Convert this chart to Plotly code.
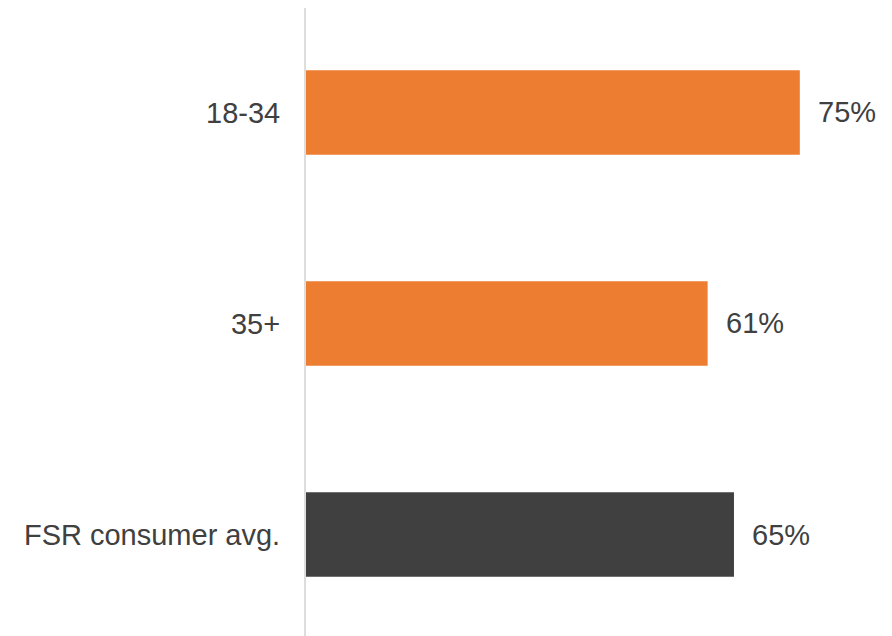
import plotly.graph_objects as go

categories = ["18-34", "35+", "FSR consumer avg."]
values = [75, 61, 65]
labels = ["75%", "61%", "65%"]
colors = ["#ED7D31", "#ED7D31", "#404040"]

FONT = "Arial, Liberation Sans, sans-serif"

fig = go.Figure()
fig.add_trace(go.Bar(
    x=values, y=categories, orientation="h",
    marker=dict(color=colors, line=dict(width=0)),
    width=0.4, hoverinfo="skip",
))
for c, v, t in zip(categories, values, labels):
    fig.add_annotation(x=v, y=c, text=t, showarrow=False, xanchor="left",
                       yanchor="middle", xshift=16,
                       font=dict(size=29, color="#404040", family=FONT))

fig.update_layout(
    width=884, height=628,
    margin=dict(l=298, r=0, t=0, b=0, autoexpand=False),
    paper_bgcolor="white", plot_bgcolor="white",
    showlegend=False,
    font=dict(family=FONT, size=29, color="#404040"),
    xaxis=dict(range=[0, 89], showgrid=False, zeroline=False, showticklabels=False,
               showline=False, ticks=""),
    yaxis=dict(range=[2.481, -0.495], showgrid=False, zeroline=False,
               showline=True, linecolor="#DDDDDD", linewidth=2,
               ticks="outside", ticklen=18, tickcolor="rgba(0,0,0,0)",
               tickfont=dict(size=29, color="#404040")),
)
fig.write_html("out.html")
